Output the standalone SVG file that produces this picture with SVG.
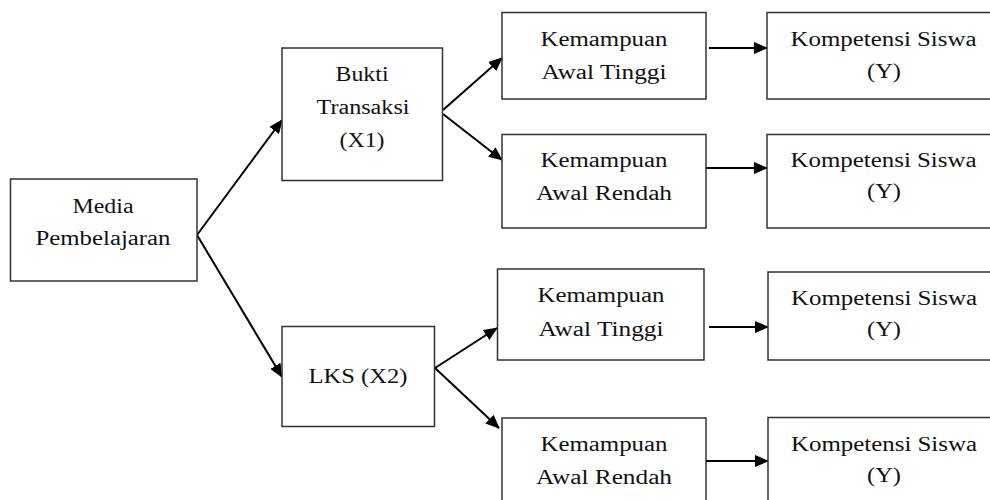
<svg xmlns="http://www.w3.org/2000/svg" width="990" height="500" viewBox="0 0 990 500">
<defs>
<style>
.box{fill:#fff;stroke:#333;stroke-width:1.5}
.t{font-family:"Liberation Serif","Times New Roman",serif;font-size:20px;fill:#111;text-anchor:middle}
.c{stroke:#000;stroke-width:2;fill:none;marker-end:url(#ah)}
</style>
<marker id="ah" markerUnits="userSpaceOnUse" markerWidth="14" markerHeight="12" refX="13" refY="6" orient="auto">
<path d="M0,0 L14,6 L0,12 z" fill="#000"/>
</marker>
</defs>
<rect width="990" height="500" fill="#fff"/>
<g id="connectors">
<line class="c" x1="197" y1="235" x2="282" y2="120"/>
<line class="c" x1="197" y1="235" x2="282" y2="377"/>
<line class="c" x1="443" y1="110" x2="502" y2="58"/>
<line class="c" x1="443" y1="114" x2="502" y2="160"/>
<line class="c" x1="435" y1="368" x2="497" y2="328"/>
<line class="c" x1="435" y1="368" x2="499" y2="428"/>
<line class="c" x1="709" y1="48" x2="767" y2="48"/>
<line class="c" x1="706" y1="168" x2="767" y2="168"/>
<line class="c" x1="709" y1="327" x2="768" y2="327"/>
<line class="c" x1="706" y1="461" x2="768" y2="461"/>
</g>
<g id="media">
<rect class="box" x="10.5" y="179" width="186.5" height="102"/>
<text class="t" x="103" y="212.5" textLength="61" lengthAdjust="spacingAndGlyphs">Media</text>
<text class="t" x="103" y="245" textLength="135" lengthAdjust="spacingAndGlyphs">Pembelajaran</text>
</g>
<g id="bukti">
<rect class="box" x="282" y="48" width="160.5" height="132.5"/>
<text class="t" x="362" y="81" textLength="53" lengthAdjust="spacingAndGlyphs">Bukti</text>
<text class="t" x="363" y="113.5" textLength="93" lengthAdjust="spacingAndGlyphs">Transaksi</text>
<text class="t" x="362" y="146.5" textLength="45" lengthAdjust="spacingAndGlyphs">(X1)</text>
</g>
<g id="lks">
<rect class="box" x="282" y="326.5" width="152.5" height="100"/>
<text class="t" x="358" y="383" textLength="99" lengthAdjust="spacingAndGlyphs">LKS (X2)</text>
</g>
<g id="kat1">
<rect class="box" x="502" y="12.5" width="204" height="86.5"/>
<text class="t" x="604" y="45.5" textLength="127" lengthAdjust="spacingAndGlyphs">Kemampuan</text>
<text class="t" x="604" y="79" textLength="125" lengthAdjust="spacingAndGlyphs">Awal Tinggi</text>
</g>
<g id="kar1">
<rect class="box" x="502" y="134.5" width="204" height="93.5"/>
<text class="t" x="604" y="166.5" textLength="127" lengthAdjust="spacingAndGlyphs">Kemampuan</text>
<text class="t" x="604" y="200" textLength="136" lengthAdjust="spacingAndGlyphs">Awal Rendah</text>
</g>
<g id="kat2">
<rect class="box" x="497.5" y="269" width="206.5" height="91"/>
<text class="t" x="601" y="302" textLength="127" lengthAdjust="spacingAndGlyphs">Kemampuan</text>
<text class="t" x="601" y="335.5" textLength="125" lengthAdjust="spacingAndGlyphs">Awal Tinggi</text>
</g>
<g id="kar2">
<rect class="box" x="502" y="418" width="204" height="100"/>
<text class="t" x="604" y="451" textLength="127" lengthAdjust="spacingAndGlyphs">Kemampuan</text>
<text class="t" x="604" y="483.5" textLength="136" lengthAdjust="spacingAndGlyphs">Awal Rendah</text>
</g>
<g id="ks1">
<rect class="box" x="767" y="12.5" width="234" height="86.5"/>
<text class="t" x="883.5" y="45.5" textLength="186" lengthAdjust="spacingAndGlyphs">Kompetensi Siswa</text>
<text class="t" x="884" y="77.5" textLength="34" lengthAdjust="spacingAndGlyphs">(Y)</text>
</g>
<g id="ks2">
<rect class="box" x="767" y="134.5" width="234" height="93.5"/>
<text class="t" x="883.5" y="166.5" textLength="186" lengthAdjust="spacingAndGlyphs">Kompetensi Siswa</text>
<text class="t" x="884" y="197.5" textLength="34" lengthAdjust="spacingAndGlyphs">(Y)</text>
</g>
<g id="ks3">
<rect class="box" x="768" y="272" width="234" height="88"/>
<text class="t" x="884" y="305" textLength="186" lengthAdjust="spacingAndGlyphs">Kompetensi Siswa</text>
<text class="t" x="884" y="336" textLength="34" lengthAdjust="spacingAndGlyphs">(Y)</text>
</g>
<g id="ks4">
<rect class="box" x="768" y="417.5" width="234" height="100"/>
<text class="t" x="884" y="450.5" textLength="186" lengthAdjust="spacingAndGlyphs">Kompetensi Siswa</text>
<text class="t" x="884" y="481.5" textLength="34" lengthAdjust="spacingAndGlyphs">(Y)</text>
</g>
</svg>
